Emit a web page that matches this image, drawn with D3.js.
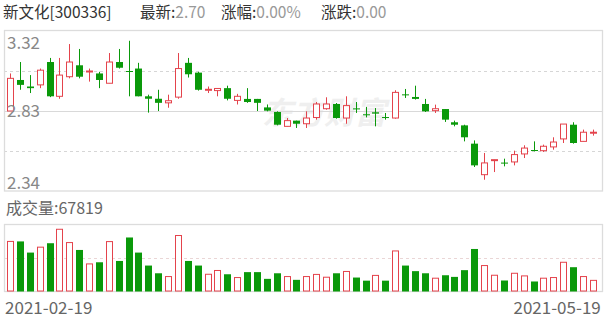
<!DOCTYPE html>
<html>
<head>
    <meta charset="utf-8">
    <title>新文化[300336]</title>
    <script src="https://d3js.org/d3.v7.min.js"></script>
    <style>
        body {
            margin: 0;
            background: #fff;
            font-family: "Noto Sans CJK SC", "Noto Sans", sans-serif;
        }
        svg text {
            font-family: "Noto Sans CJK SC", "Noto Sans", sans-serif;
        }
        .axis path.domain {
            stroke: none;
        }
    </style>
</head>
<body>
    <svg id="chart" width="607" height="318"></svg>
    <script>
        // trading days shown
        const dates = [
            '2021-02-19', '2021-02-22', '2021-02-23', '2021-02-24', '2021-02-25', '2021-02-26',
            '2021-03-01', '2021-03-02', '2021-03-03', '2021-03-04', '2021-03-05',
            '2021-03-08', '2021-03-09', '2021-03-10', '2021-03-11', '2021-03-12',
            '2021-03-15', '2021-03-16', '2021-03-17', '2021-03-18', '2021-03-19',
            '2021-03-22', '2021-03-23', '2021-03-24', '2021-03-25', '2021-03-26',
            '2021-03-29', '2021-03-30', '2021-03-31', '2021-04-01', '2021-04-02',
            '2021-04-06', '2021-04-07', '2021-04-08', '2021-04-09',
            '2021-04-12', '2021-04-13', '2021-04-14', '2021-04-15', '2021-04-16',
            '2021-04-19', '2021-04-20', '2021-04-21', '2021-04-22', '2021-04-23',
            '2021-04-26', '2021-04-27', '2021-04-28', '2021-04-29', '2021-04-30',
            '2021-05-06', '2021-05-07', '2021-05-10', '2021-05-11', '2021-05-12',
            '2021-05-13', '2021-05-14', '2021-05-17', '2021-05-18', '2021-05-19'
        ];
        const opens = [
            2.83, 3.02, 2.98, 2.99, 3.13, 2.92, 3.04, 3.11, 3.07, 3.06,
            3.00, 3.13, 3.075, 3.09, 2.92, 2.905, 2.88, 2.915, 3.125, 3.065,
            2.958, 2.955, 2.97, 2.895, 2.904, 2.904, 2.852, 2.824, 2.736, 2.771,
            2.752, 2.79, 2.844, 2.873, 2.787, 2.846, 2.81, 2.822, 2.793, 2.787,
            2.932, 2.916, 2.873, 2.832, 2.842, 2.761, 2.742, 2.63, 2.44, 2.526,
            2.514, 2.518, 2.567, 2.591, 2.587, 2.61, 2.659, 2.746, 2.644, 2.698
        ];
        const closes = [
            3.03, 2.99, 2.97, 3.08, 2.92, 3.05, 3.13, 3.04, 3.075, 3.02,
            3.13, 3.095, 3.07, 2.92, 2.905, 2.88, 2.893, 3.09, 3.055, 2.96,
            2.963, 2.968, 2.905, 2.92, 2.885, 2.88, 2.832, 2.746, 2.771, 2.752,
            2.787, 2.873, 2.873, 2.787, 2.863, 2.842, 2.806, 2.814, 2.789, 2.944,
            2.928, 2.904, 2.828, 2.844, 2.777, 2.746, 2.669, 2.497, 2.512, 2.532,
            2.51, 2.563, 2.603, 2.587, 2.614, 2.64, 2.75, 2.634, 2.70, 2.70
        ];
        const highs = [
            3.06, 3.13, 3.05, 3.09, 3.155, 3.155, 3.24, 3.21, 3.09, 3.07,
            3.185, 3.21, 3.26, 3.125, 2.93, 2.96, 2.93, 3.185, 3.155, 3.07,
            2.98, 2.968, 2.985, 2.935, 2.97, 2.904, 2.87, 2.828, 2.787, 2.771,
            2.828, 2.885, 2.914, 2.879, 2.92, 2.885, 2.855, 2.848, 2.818, 2.957,
            2.965, 2.985, 2.904, 2.869, 2.842, 2.771, 2.746, 2.65, 2.573, 2.532,
            2.538, 2.587, 2.62, 2.644, 2.624, 2.669, 2.75, 2.761, 2.716, 2.716
        ];
        const lows = [
            2.83, 2.96, 2.94, 2.97, 2.915, 2.905, 3.03, 3.03, 3.01, 2.97,
            3.00, 3.09, 2.92, 2.92, 2.82, 2.83, 2.85, 2.905, 3.035, 2.955,
            2.94, 2.92, 2.895, 2.87, 2.88, 2.83, 2.828, 2.742, 2.736, 2.726,
            2.726, 2.777, 2.838, 2.783, 2.752, 2.818, 2.791, 2.736, 2.777, 2.783,
            2.91, 2.90, 2.824, 2.818, 2.763, 2.736, 2.644, 2.487, 2.409, 2.456,
            2.491, 2.497, 2.542, 2.583, 2.579, 2.593, 2.634, 2.63, 2.644, 2.679
        ];
        const volumes = [
            305000, 305000, 237000, 270000, 294000, 379000, 298000, 253000, 168000, 178000,
            304000, 186000, 329000, 237000, 158000, 111000, 91000, 341000, 186000, 158000,
            105000, 128000, 105000, 85000, 118000, 118000, 77000, 111000, 91000, 71000,
            91000, 104000, 87000, 111000, 122000, 85000, 66000, 98000, 66000, 247000,
            158000, 124000, 111000, 81000, 99000, 89000, 130000, 259000, 158000, 99000,
            67000, 111000, 95000, 61000, 81000, 85000, 178000, 148000, 91000, 67819
        ];
        const priceTicks = [3.32, 2.83, 2.34];
        const volMax = 405000;

        const header = [
            { label: '新文化[300336]', value: '', x: 3 },
            { label: '最新:', value: '2.70', x: 140 },
            { label: '涨幅:', value: '0.00%', x: 221 },
            { label: '涨跌:', value: '0.00', x: 321 }
        ];

        const RED = '#e4434c';
        const GREEN = '#0a990a';

        const left = 4, right = 602;
        const priceTop = 31, priceBottom = 191;
        const volTop = 225, volBottom = 291.5;

        const data = dates.map((d, i) => ({
            date: d,
            open: opens[i],
            close: closes[i],
            high: highs[i],
            low: lows[i],
            volume: volumes[i],
            prev: i > 0 ? closes[i - 1] : opens[i]
        }));

        const svg = d3.select('#chart');

        const x = d3.scaleBand()
            .domain(dates)
            .range([5.1, 597.7]);
        const cx = d => Math.round(x(d.date) + x.bandwidth() / 2);

        const y = d3.scaleLinear()
            .domain([priceTicks[2], priceTicks[0]])
            .range([priceBottom, priceTop]);

        const yv = d3.scaleLinear()
            .domain([0, volMax])
            .range([volBottom, volTop]);

        // header line
        header.forEach(h => {
            const t = svg.append('text')
                .attr('x', h.x)
                .attr('y', 17.5)
                .attr('font-size', 15.5);
            t.append('tspan').attr('fill', '#333').text(h.label);
            if (h.value) t.append('tspan').attr('fill', '#999').text(h.value);
        });

        // watermark
        svg.append('text')
            .attr('x', 262)
            .attr('y', 124)
            .attr('font-size', 31)
            .attr('font-weight', 'bold')
            .attr('font-style', 'italic')
            .attr('fill', '#efefef')
            .text('东方财富');

        // price panel grid
        const mids = d3.pairs(priceTicks).map(p => (p[0] + p[1]) / 2);
        svg.append('g')
            .selectAll('line')
            .data(mids)
            .join('line')
            .attr('x1', left).attr('x2', right)
            .attr('y1', d => Math.round(y(d)) + 0.5)
            .attr('y2', d => Math.round(y(d)) + 0.5)
            .attr('stroke', '#d6d6d6')
            .attr('stroke-dasharray', '3,3');
        svg.append('line')
            .attr('x1', left).attr('x2', right)
            .attr('y1', Math.round(y(priceTicks[1])) + 0.5)
            .attr('y2', Math.round(y(priceTicks[1])) + 0.5)
            .attr('stroke', '#d9d9d9');
        svg.append('rect')
            .attr('x', left + 0.5).attr('y', priceTop - 0.5)
            .attr('width', right - left).attr('height', priceBottom - priceTop + 0.5)
            .attr('fill', 'none')
            .attr('stroke', '#dcdcdc')
            .attr('stroke-width', 1.3);

        // volume panel grid
        svg.append('line')
            .attr('x1', left).attr('x2', right)
            .attr('y1', Math.round(yv(volMax / 2)) + 0.5)
            .attr('y2', Math.round(yv(volMax / 2)) + 0.5)
            .attr('stroke', '#ead6d6')
            .attr('stroke-dasharray', '3,3');
        svg.append('rect')
            .attr('x', left + 0.5).attr('y', volTop - 0.5)
            .attr('width', right - left).attr('height', volBottom - volTop + 0.5)
            .attr('fill', 'none')
            .attr('stroke', '#dcdcdc')
            .attr('stroke-width', 1.3);

        // candles
        const isUp = d => d.close >= d.open;
        const candles = svg.append('g')
            .selectAll('g')
            .data(data)
            .join('g');

        candles.append('line')
            .attr('x1', d => cx(d) + 0.5)
            .attr('x2', d => cx(d) + 0.5)
            .attr('y1', d => y(d.high))
            .attr('y2', d => y(d.low))
            .attr('stroke', d => isUp(d) ? RED : GREEN);

        candles.append('rect')
            .attr('x', d => isUp(d) ? cx(d) - 2.5 : cx(d) - 3)
            .attr('width', d => isUp(d) ? 6 : 7)
            .attr('y', d => y(Math.max(d.open, d.close)))
            .attr('height', d => Math.max(1, Math.abs(y(d.open) - y(d.close))))
            .attr('fill', d => isUp(d) ? '#fff' : GREEN)
            .attr('stroke', d => isUp(d) ? RED : 'none');

        // volume bars, coloured by change from previous close
        const volUp = d => d.close >= d.prev;
        svg.append('g')
            .selectAll('rect')
            .data(data)
            .join('rect')
            .attr('x', d => volUp(d) ? cx(d) - 2.5 : cx(d) - 3)
            .attr('width', d => volUp(d) ? 6 : 7)
            .attr('y', d => yv(d.volume))
            .attr('height', d => yv(0) - yv(d.volume) - (volUp(d) ? 0.5 : 0))
            .attr('fill', d => volUp(d) ? '#fff' : GREEN)
            .attr('stroke', d => volUp(d) ? RED : 'none');

        // price labels
        const yAxis = svg.append('g')
            .attr('class', 'axis')
            .attr('transform', `translate(${left},0)`)
            .call(d3.axisRight(y).tickValues(priceTicks).tickSize(0).tickFormat(d3.format('.2f')));
        yAxis.selectAll('text')
            .attr('x', 3)
            .attr('font-size', 17)
            .attr('fill', '#888')
            .attr('dy', (d, i) => ['1.0em', '0.35em', '-0.15em'][i]);

        // volume label
        svg.append('text')
            .attr('x', 6)
            .attr('y', 214)
            .attr('font-size', 16)
            .attr('fill', '#666')
            .text('成交量:' + volumes[volumes.length - 1]);

        // date labels
        const xAxis = svg.append('g')
            .attr('class', 'axis')
            .attr('transform', `translate(0,${volBottom})`)
            .call(d3.axisBottom(x).tickValues([dates[0], dates[dates.length - 1]]).tickSize(0));
        xAxis.selectAll('text')
            .attr('font-size', 17)
            .attr('fill', '#666')
            .attr('y', 22)
            .attr('dy', 0)
            .attr('text-anchor', (d, i) => i === 0 ? 'start' : 'end')
            .attr('x', (d, i) => i === 0 ? -5 : 8);
    </script>
</body>
</html>
